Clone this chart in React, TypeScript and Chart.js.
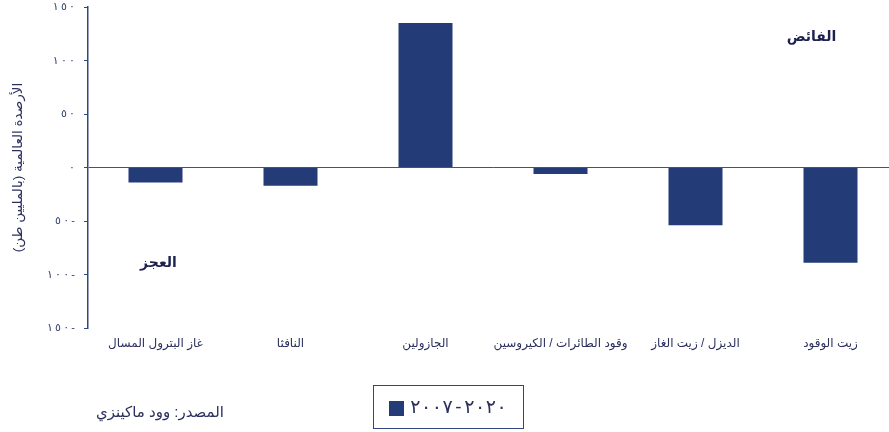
import React, { useEffect, useRef } from "react";
import { Chart, registerables } from "chart.js";

Chart.register(...registerables);

const categories = [
  "غاز البترول المسال",
  "النافثا",
  "الجازولين",
  "وقود الطائرات / الكيروسين",
  "الديزل / زيت الغاز",
  "زيت الوقود",
];
const balances = [-14, -17, 135, -6, -54, -89];
const yMin = -150;
const yMax = 150;
const yStep = 50;
const seriesLabel = "٢٠٠٧-٢٠٢٠";
const yTitle = "الأرصدة العالمية (بالمليين طن)";
const surplusLabel = "الفائض";
const deficitLabel = "العجز";
const sourceText = "المصدر: وود ماكينزي";

const FONT = 'Arial, "Liberation Sans", "DejaVu Sans", sans-serif';
const BAR = "#233b76";
const AXIS = "#2e4780";
const TEXT = "#2a2f5e";

const arabicDigits = (n: number) =>
  String(Math.abs(n)).replace(/[0-9]/g, (d) => "٠١٢٣٤٥٦٧٨٩"[Number(d)]);

const tickText = (v: number) =>
  "\u202D" + arabicDigits(v).split("").join("\u2009") + (v < 0 ? "\u2009-" : "") + "\u202C";

const decorPlugin = {
  id: "decor",
  afterDraw(chart: any) {
    const ctx = chart.ctx as CanvasRenderingContext2D;
    const xs = chart.scales.x;
    const ys = chart.scales.y;
    ctx.save();
    // y title
    ctx.save();
    ctx.translate(18, (chart.chartArea.top + chart.chartArea.bottom) / 2);
    ctx.rotate(-Math.PI / 2);
    ctx.direction = "rtl";
    ctx.textAlign = "center";
    ctx.textBaseline = "middle";
    ctx.fillStyle = TEXT;
    ctx.font = `13.5px ${FONT}`;
    ctx.fillText(yTitle, 0, 0);
    ctx.restore();

    // annotations
    ctx.fillStyle = "#1c2150";
    ctx.font = `bold 14px ${FONT}`;
    ctx.textAlign = "center";
    ctx.textBaseline = "middle";
    ctx.fillText(surplusLabel, xs.getPixelForValue(5) - 19, ys.getPixelForValue(122));
    ctx.fillText(deficitLabel, xs.getPixelForValue(0) + 3, ys.getPixelForValue(-89));

    // legend box
    ctx.strokeStyle = AXIS;
    ctx.lineWidth = 1;
    ctx.strokeRect(373.5, 385.5, 150, 43);
    ctx.fillStyle = BAR;
    ctx.fillRect(389, 401, 15, 15);
    ctx.fillStyle = TEXT;
    ctx.font = `19px ${FONT}`;
    ctx.textAlign = "center";
    ctx.textBaseline = "middle";
    const chars = seriesLabel.split("");
    const step = 97 / chars.length;
    chars.forEach((ch, i) => {
      ctx.fillText(ch, 410 + step * (i + 0.5), 408);
    });

    // source
    ctx.direction = "rtl";
    ctx.textAlign = "right";
    ctx.font = `15px ${FONT}`;
    ctx.fillStyle = TEXT;
    ctx.fillText(sourceText, 224, 413);
    ctx.restore();
  },
};

export default function App() {
  const ref = useRef<HTMLCanvasElement>(null);
  useEffect(() => {
    if (!ref.current) return;
    const chart = new Chart(ref.current, {
      type: "bar",
      data: {
        labels: categories,
        datasets: [
          {
            label: seriesLabel,
            data: balances,
            backgroundColor: BAR,
            borderWidth: 0,
            barPercentage: 0.8,
            categoryPercentage: 0.5,
          },
        ],
      },
      options: {
        responsive: false,
        animation: false,
        devicePixelRatio: 1,
        layout: { padding: { top: 7, left: 0, right: 0, bottom: 0 } },
        plugins: { legend: { display: false }, tooltip: { enabled: false } },
        scales: {
          x: {
            grid: { display: false, drawTicks: false },
            border: { display: false },
            ticks: {
              color: TEXT,
              font: { family: FONT, size: 12 },
              padding: 8,
              maxRotation: 0,
              autoSkip: false,
            },
            afterFit: (s: any) => {
              s.height = 104;
            },
          },
          y: {
            min: yMin,
            max: yMax,
            ticks: {
              stepSize: yStep,
              color: "#34406e",
              font: { family: FONT, size: 11 },
              padding: 9,
              callback: (v: any) => tickText(Number(v)),
            },
            grid: {
              drawOnChartArea: true,
              drawTicks: true,
              tickLength: 4,
              lineWidth: 1,
              color: (c: any) => (c.tick && c.tick.value === 0 ? "#3f5286" : "rgba(0,0,0,0)"),
              tickColor: AXIS,
            },
            border: { display: true, color: AXIS, width: 1.5 },
            afterFit: (s: any) => {
              s.width = 88;
              s.paddingTop = 0;
              s.paddingBottom = 0;
            },
          },
        },
      },
      plugins: [decorPlugin],
    });
    return () => chart.destroy();
  }, []);
  return (
    <div
      style={{
        position: "absolute",
        left: 0,
        top: 0,
        width: 889,
        height: 432,
        overflow: "hidden",
        background: "#fff",
      }}
    >
      <canvas ref={ref} width={898} height={432} style={{ width: 898, height: 432, display: "block" }} />
    </div>
  );
}
